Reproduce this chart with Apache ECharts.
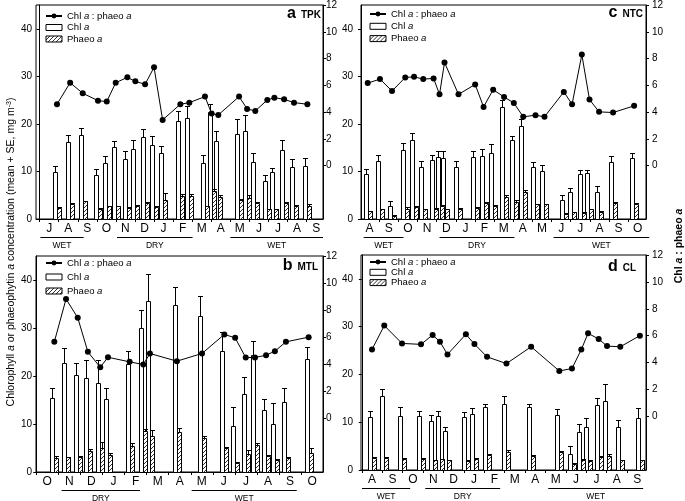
<!DOCTYPE html>
<html><head><meta charset="utf-8">
<script src="https://cdn.jsdelivr.net/npm/echarts@6/dist/echarts.min.js"></script>
<style>html,body{margin:0;padding:0;background:#fff}#c{width:685px;height:501px}</style>
</head><body><div id="c"></div>
<script>
// ---------- DATA ----------
// x = sampling date in months from start of first labelled month
var monthsA = ['J','A','S','O','N','D','J','F','M','A','M','J','J','A','S'];
var xA = [0.91,1.60,2.26,3.06,3.52,3.99,4.60,5.02,5.53,6.00,6.45,7.38,7.85,8.67,9.02,9.37,10.46,10.88,11.31,11.94,12.31,12.82,13.34,14.04];
var chlA = [9.9,16.1,17.7,9.3,11.8,15.1,12.6,14.8,17.2,15.6,13.8,20.6,21.2,11.7,22.6,16.4,17.8,18.5,11.9,8.0,9.8,14.5,11.0,11.2];
var chlSeA = [1.3,1.6,1.5,1.2,1.4,1.4,1.8,1.9,1.8,1.9,1.5,2.2,2.6,1.8,1.5,2.0,3.2,3.3,2.0,1.2,1.0,2.2,1.6,1.6];
var phA = [2.4,3.1,3.7,2.2,2.7,2.7,2.3,2.8,3.3,2.5,4.0,4.9,4.8,2.7,5.9,4.7,4.0,4.5,3.4,2.0,2.0,3.4,2.8,2.8];
var phSeA = [0.2,0.2,0.1,0.1,0.1,0.1,0.2,0.2,0.2,0.2,1.5,0.3,0.4,0.1,0.5,0.3,0.3,0.5,0.2,0.2,0.1,0.2,0.1,0.4];
var ratioA = [4.58,6.19,5.40,4.85,4.78,6.19,6.59,6.29,6.07,7.34,3.41,4.58,4.70,5.15,3.88,3.78,5.15,4.23,4.08,4.90,5.07,4.95,4.70,4.58];
var seasonsA = [[0.04,2.31,'WET'],[4.06,8.02,'DRY'],[10.0,14.86,'WET']];

var monthsC = ['A','S','O','N','D','J','F','M','A','M','J','J','A','S','O'];
var xC = [0.40,1.04,1.67,2.36,2.82,3.30,3.84,4.15,4.41,5.14,6.01,6.45,6.95,7.52,8.03,8.52,9.16,9.63,10.64,11.07,11.58,11.98,12.48,13.21,14.31];
var chlC = [9.4,12.1,2.7,14.6,16.7,11.0,12.4,13.0,12.9,11.0,13.1,13.3,13.8,23.6,16.6,19.6,10.9,10.1,4.1,5.7,9.4,9.7,5.7,11.9,12.8];
var chlSeC = [1.2,1.3,1.0,1.3,1.3,1.1,1.0,1.3,1.4,1.3,1.2,1.5,1.9,1.4,0.8,1.4,1.1,1.2,1.0,0.9,0.9,0.7,1.3,1.4,1.0];
var phC = [1.6,2.1,0.7,2.2,2.6,2.0,2.1,2.7,2.0,2.2,2.4,3.3,2.8,4.7,3.6,5.7,3.1,3.1,1.0,1.4,1.3,2.0,1.5,3.3,3.1];
var phSeC = [0.1,0.1,0.1,0.4,0.1,0.1,0.2,0.3,0.1,0.1,0.1,0.2,0.2,0.4,0.3,0.5,0.1,0.1,0.2,0.1,0.2,0.2,0.2,0.2,0.3];
var ratioC = [6.16,6.46,5.57,6.58,6.63,6.46,6.51,5.32,7.70,5.32,6.06,4.38,5.67,5.12,4.68,3.64,3.76,3.64,5.50,4.58,8.29,4.93,4.01,3.96,4.46];
var seasonsC = [[0.19,2.27,'WET'],[4.15,8.06,'DRY'],[10.1,15.1,'WET']];

var monthsB = ['O','N','D','J','F','M','A','M','J','J','A','S','O'];
var xB = [0.82,1.35,1.88,2.34,2.90,3.25,4.23,4.85,5.15,6.37,7.51,8.52,9.01,9.49,9.91,10.41,10.81,11.31,12.34];
var chlB = [15.4,22.8,20.2,19.6,18.6,15.3,22.5,30.1,35.6,34.8,32.6,25.3,9.6,16.3,24.3,12.9,10.0,14.5,23.5];
var chlSeB = [2.2,3.1,2.6,3.7,4.7,2.2,2.7,3.6,5.6,3.7,4.1,3.8,4.0,3.5,3.0,2.4,4.3,3.0,2.6];
var phB = [3.0,3.1,3.1,4.3,4.9,3.5,5.5,8.5,7.6,8.3,7.0,4.9,1.9,3.8,5.7,3.3,2.4,3.0,4.0];
var phSeB = [0.3,0.1,0.2,0.4,1.4,0.5,0.6,0.4,1.2,0.9,0.5,0.3,0.1,0.8,0.3,0.2,0.3,0.2,0.9];
var ratioB = [5.64,8.81,7.43,4.90,3.76,4.50,4.16,3.96,4.78,4.21,4.78,6.19,5.94,4.48,4.48,4.65,4.95,5.64,5.99];
var seasonsB = [[1.15,4.70,'DRY'],[7.04,11.80,'WET']];

var monthsD = ['A','S','O','N','D','J','F','M','A','M','J','J','A','S'];
var xD = [0.50,1.10,1.97,2.90,3.47,3.83,4.20,5.10,5.52,6.14,7.09,8.30,9.68,10.30,10.76,11.09,11.61,12.02,12.67,13.63];
var chlD = [11.0,15.4,11.4,11.2,10.3,11.3,8.2,11.0,11.7,13.1,13.8,13.1,11.5,3.4,8.0,8.9,13.6,14.5,9.1,10.8];
var chlSeD = [1.4,1.6,1.7,1.2,1.2,1.1,0.9,1.1,1.2,0.7,1.6,0.7,1.3,1.6,1.6,1.9,1.4,3.4,1.4,2.1];
var phD = [2.6,2.6,2.4,2.4,2.0,2.2,2.0,1.9,2.4,3.2,3.8,2.9,3.8,1.3,2.0,1.8,2.8,2.9,2.0,2.0];
var phSeD = [0.1,0.1,0.1,0.1,0.1,0.2,0.1,0.1,0.1,0.2,0.4,0.2,0.2,0.2,0.2,0.2,0.2,0.5,0.1,0.1];
var ratioD = [4.97,6.75,5.42,5.35,6.05,5.55,4.60,6.10,5.37,4.42,3.92,5.17,3.37,3.55,4.97,6.17,5.75,5.22,5.17,6.00];
var seasonsD = [[0.01,2.37,'WET'],[3.11,6.78,'DRY'],[9.14,13.79,'WET']];

var leftTicks = [0,10,20,30,40];
var rightTicks = [0,2,4,6,8,10,12];

// ---------- LAYOUT ----------
var FONT = 'Liberation Sans, Arial, sans-serif';
var panels = [
  {letter:'a', site:'TPK', months:monthsA, x:xA, chl:chlA, chlSe:chlSeA, ph:phA, phSe:phSeA, ratio:ratioA, seasons:seasonsA,
   grid:{left:36, top:5, width:287, height:214}, xr:[-0.19,14.86], lm:4, rm:3, leg:{left:45, top:11, gap:1.5}, title:{right:364, top:4}},
  {letter:'c', site:'NTC', months:monthsC, x:xC, chl:chlC, chlSe:chlSeC, ph:phC, phSe:phSeC, ratio:ratioC, seasons:seasonsC,
   grid:{left:361, top:5, width:285, height:214}, xr:[0.05,14.93], lm:8, rm:6, leg:{left:369, top:9, gap:2.3}, title:{right:42, top:3}},
  {letter:'b', site:'MTL', months:monthsB, x:xB, chl:chlB, chlSe:chlSeB, ph:phB, phSe:phSeB, ratio:ratioB, seasons:seasonsB,
   grid:{left:36, top:256, width:287, height:216}, xr:[-0.01,12.99], lm:4, rm:3, leg:{left:45, top:258, gap:4}, title:{right:367, top:256}},
  {letter:'d', site:'CL', months:monthsD, x:xD, chl:chlD, chlSe:chlSeD, ph:phD, phSe:phSeD, ratio:ratioD, seasons:seasonsD,
   grid:{left:361, top:255, width:285, height:215}, xr:[-0.04,13.93], lm:8, rm:6, leg:{left:369, top:257, gap:0.3}, title:{right:49, top:257}}
];

// hatch pattern
var pc = document.createElement('canvas'); pc.width = 4; pc.height = 4;
var g2 = pc.getContext('2d');
g2.fillStyle = '#fff'; g2.fillRect(0,0,4,4);
g2.strokeStyle = '#333'; g2.lineWidth = 1;
g2.beginPath(); g2.moveTo(0,4); g2.lineTo(4,0); g2.moveTo(-1,1); g2.lineTo(1,-1); g2.moveTo(3,5); g2.lineTo(5,3); g2.stroke();
var hatch = {image: pc, repeat: 'repeat'};

function barRender(side, fill) {
  return function (params, api) {
    var x = api.value(0), v = api.value(1), se = api.value(2);
    var top = api.coord([x, v]), base = api.coord([x, 0]), err = api.coord([x, v + se]);
    var w = 4;
    var cx = Math.round(top[0]);
    var x0 = side < 0 ? cx - w : cx;
    var ty = Math.round(top[1]) + 0.5, by = Math.round(base[1]) + 0.5, ey = Math.round(err[1]) + 0.5;
    var mid = x0 + w / 2 + 0.5;
    return {type:'group', children:[
      {type:'line', shape:{x1:mid, y1:ty, x2:mid, y2:ey}, style:{stroke:'#000', lineWidth:1}},
      {type:'line', shape:{x1:mid-2.5, y1:ey, x2:mid+2.5, y2:ey}, style:{stroke:'#000', lineWidth:1}},
      {type:'rect', shape:{x:x0+0.5, y:ty, width:w, height:by-ty}, style:{fill:fill, stroke:'#000', lineWidth:1}}
    ]};
  };
}

function seasonRender(seasons) {
  return function (params, api) {
    var s = seasons[params.dataIndex];
    var p1 = api.coord([s[0], 0]), p2 = api.coord([s[1], 0]);
    var y = Math.round(p1[1]) + 18.5;
    return {type:'group', children:[
      {type:'line', shape:{x1:p1[0], y1:y, x2:p2[0], y2:y}, style:{stroke:'#000', lineWidth:1}},
      {type:'text', style:{text:s[2], x:(p1[0]+p2[0])/2, y:y+8.5, align:'center', verticalAlign:'middle', font:'8.5px ' + FONT, fill:'#000'}}
    ]};
  };
}

var legendNames = {r:'Chl {i|a} : phaeo {i|a}', c:'Chl {i|a}', p:'Phaeo {i|a}'};
var option = {animation:false, grid:[], xAxis:[], yAxis:[], series:[], legend:[], title:[],
  textStyle:{fontFamily:FONT},
  graphic:[
    {type:'text', x:11, y:252, rotation:Math.PI/2, style:{text:'Chlorophyll {i|a} or phaeophytin {i|a} concentration (mean + SE, mg m{s|-3})',
      align:'center', verticalAlign:'middle', font:'10.5px ' + FONT, fill:'#000',
      rich:{i:{fontStyle:'italic', fontSize:10.5, fontFamily:FONT}, s:{fontSize:7, fontFamily:FONT, verticalAlign:'top'}}}},
    {type:'text', x:679, y:246, rotation:Math.PI/2, style:{text:'Chl {i|a} : phaeo {i|a}',
      align:'center', verticalAlign:'middle', font:'bold 10.5px ' + FONT, fill:'#000',
      rich:{i:{fontStyle:'italic', fontWeight:'bold', fontSize:10.5, fontFamily:FONT}}}}
  ]
};

panels.forEach(function (P, g) {
  var n = P.months.length;
  var centers = P.months.map(function (m, i) { return i + 0.5; });
  var bounds = [];
  for (var i = 0; i <= n; i++) if (i >= P.xr[0] && i <= P.xr[1]) bounds.push(i);
  option.grid.push({left:P.grid.left, top:P.grid.top, width:P.grid.width, height:P.grid.height,
    show:true, borderColor:'#000', borderWidth:1, backgroundColor:'transparent'});
  option.xAxis.push({type:'value', gridIndex:g, min:P.xr[0], max:P.xr[1],
    axisLine:{show:true, onZero:false, lineStyle:{color:'#000', width:1}},
    axisTick:{show:true, customValues:bounds, length:3, lineStyle:{color:'#000'}},
    axisLabel:{customValues:centers, margin:4, fontSize:12, color:'#000', fontFamily:FONT,
      formatter:(function (months) { return function (v) { return months[Math.floor(v)] || ''; }; })(P.months)},
    splitLine:{show:false}});
  option.yAxis.push({type:'value', gridIndex:g, min:0, max:45, position:'left',
    axisLine:{show:true, lineStyle:{color:'#000'}},
    axisTick:{show:true, customValues:leftTicks, length:3, lineStyle:{color:'#000'}},
    axisLabel:{customValues:leftTicks, margin:P.lm, fontSize:10, color:'#000', fontFamily:FONT},
    splitLine:{show:false}});
  option.yAxis.push({type:'value', gridIndex:g, min:-4, max:12, position:'right',
    axisLine:{show:true, lineStyle:{color:'#000'}},
    axisTick:{show:true, customValues:rightTicks, length:3, lineStyle:{color:'#000'}},
    axisLabel:{customValues:rightTicks, margin:P.rm, fontSize:10, color:'#000', fontFamily:FONT},
    splitLine:{show:false}});
  option.series.push({type:'custom', name:'c', xAxisIndex:g, yAxisIndex:2*g, z:2,
    itemStyle:{color:'#fff', borderColor:'#000'},
    data:P.x.map(function (x, i) { return [x, P.chl[i], P.chlSe[i]]; }),
    encode:{x:0, y:1}, renderItem:barRender(-1, '#fff')});
  option.series.push({type:'custom', name:'p', xAxisIndex:g, yAxisIndex:2*g, z:2,
    itemStyle:{color:'#999', borderColor:'#000'},
    data:P.x.map(function (x, i) { return [x, P.ph[i], P.phSe[i]]; }),
    encode:{x:0, y:1}, renderItem:barRender(1, hatch)});
  option.series.push({type:'line', name:'r', xAxisIndex:g, yAxisIndex:2*g+1, z:5,
    symbol:'circle', symbolSize:6, itemStyle:{color:'#000'}, lineStyle:{color:'#000', width:1},
    data:P.x.map(function (x, i) { return [x, P.ratio[i]]; })});
  option.series.push({type:'custom', name:'season'+g, xAxisIndex:g, yAxisIndex:2*g, clip:false, silent:true,
    data:P.seasons.map(function (s) { return [s[0], 0, s[1]]; }),
    encode:{x:[0,2], y:1}, renderItem:seasonRender(P.seasons)});
  option.legend.push({left:P.leg.left, top:P.leg.top, orient:'vertical', itemWidth:16, itemHeight:6,
    itemGap:P.leg.gap, selectedMode:false, padding:0,
    textStyle:{fontSize:9.5, lineHeight:8, color:'#000', fontFamily:FONT,
      rich:{i:{fontStyle:'italic', fontSize:9.5, lineHeight:8, fontFamily:FONT}}},
    formatter:function (name) { return legendNames[name]; },
    data:[{name:'r'},
      {name:'c', icon:'rect', itemStyle:{color:'#fff', borderColor:'#000', borderWidth:1}},
      {name:'p', icon:'rect', itemStyle:{color:hatch, borderColor:'#000', borderWidth:1}}]});
  option.title.push({text:'{l|' + P.letter + '} {s|' + P.site + '}', right:P.title.right, top:P.title.top, padding:0,
    textStyle:{rich:{l:{fontSize:16, fontWeight:'bold', fontFamily:FONT, verticalAlign:'bottom', color:'#000'},
      s:{fontSize:10, fontWeight:'bold', fontFamily:FONT, verticalAlign:'bottom', color:'#000', padding:[0,0,2,0]}}}});
});

var chart = echarts.init(document.getElementById('c'));
chart.setOption(option);
</script></body></html>
